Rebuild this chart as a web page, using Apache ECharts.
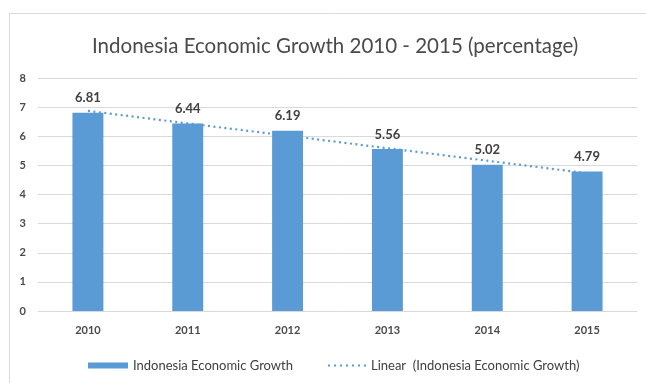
<!DOCTYPE html>
<html><head><meta charset="utf-8">
<script src="https://cdn.jsdelivr.net/npm/echarts@6/dist/echarts.min.js"></script>
<style>html,body{margin:0;padding:0;background:#fff}#c{width:646px;height:383px}</style>
</head><body><div id="c"></div>
<script>
const years = ['2010','2011','2012','2013','2014','2015'];
const growth = [6.81, 6.44, 6.19, 5.56, 5.02, 4.79];
const trend = [6.87, 6.44, 6.02, 5.59, 5.16, 4.73];
const yTicks = [0,1,2,3,4,5,6,7,8];
const FONT = 'Lato, "Open Sans", sans-serif';
const dotIcon = 'path://M0,0h2v2h-2z M6,0h2v2h-2z M12,0h2v2h-2z M18,0h2v2h-2z M24,0h2v2h-2z M30,0h2v2h-2z M36,0h2v2h-2z';
const chart = echarts.init(document.getElementById('c'));
chart.setOption({
  animation:false,
  textStyle:{fontFamily:FONT},
  graphic:[{type:'rect',shape:{x:9.5,y:13.5,width:700,height:500},style:{fill:'none',stroke:'#d9d9d9',lineWidth:1},z:-1}],
  title:{text:'Indonesia Economic Growth 2010 - 2015 (percentage)',left:87,top:31,
    textStyle:{fontFamily:FONT,fontSize:20.5,fontWeight:'normal',color:'#4a4a4a'}},
  legend:[
    {data:[{name:'Indonesia Economic Growth',icon:'rect'}],left:83,top:354,itemWidth:40,itemHeight:6,itemGap:4,
     textStyle:{fontFamily:FONT,fontSize:13,color:'#404040'}},
    {data:[{name:'Linear  (Indonesia Economic Growth)',icon:dotIcon}],left:323,top:354,itemWidth:38,itemHeight:2.5,
     textStyle:{fontFamily:FONT,fontSize:13,color:'#404040'}}
  ],
  grid:{left:38,right:9,top:78,bottom:72},
  xAxis:{type:'category',data:years,axisLine:{show:false},axisTick:{show:false},
    axisLabel:{fontFamily:FONT,fontSize:11,fontWeight:'bold',color:'#4a4a4a',margin:14}},
  yAxis:{type:'value',min:0,max:8,interval:1,axisLine:{show:false},axisTick:{show:false},
    axisLabel:{fontFamily:FONT,fontSize:11,fontWeight:'bold',color:'#4a4a4a',margin:12},
    splitLine:{lineStyle:{color:'#d9d9d9',width:1}}},
  series:[
    {name:'Indonesia Economic Growth',type:'bar',data:growth,barWidth:'31%',
     itemStyle:{color:'#5b9bd5'},
     label:{show:true,position:'top',distance:8,fontFamily:FONT,fontSize:13,fontWeight:'bold',color:'#404040'}},
    {name:'Linear  (Indonesia Economic Growth)',type:'line',data:trend,symbol:'none',z:5,
     lineStyle:{color:'#5b9bd5',width:2.2,type:[2,3.5]},itemStyle:{color:'#5b9bd5'}}
  ]
});
</script></body></html>
